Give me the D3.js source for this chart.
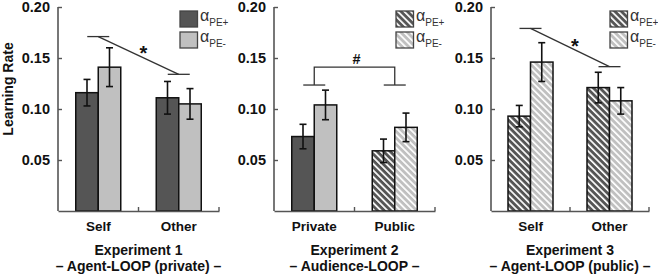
<html>
<script src="https://d3js.org/d3.v7.min.js"></script>
<style>
    body { margin: 0; background: #fff; }
    svg text { font-family: "Liberation Sans", Arial, sans-serif; }
</style>
<svg width=658 height=276></svg>
<script>

    // ---- data ----
    let categories1 = ['Self', 'Other'],
        pePlus1 = [0.116, 0.111],
        peMinus1 = [0.141, 0.105],
        errPlus1 = [0.013, 0.016],
        errMinus1 = [0.019, 0.015],
        hatch1 = [false, false];

    let categories2 = ['Private', 'Public'],
        pePlus2 = [0.073, 0.059],
        peMinus2 = [0.104, 0.082],
        errPlus2 = [0.012, 0.0115],
        errMinus2 = [0.0145, 0.014],
        hatch2 = [false, true];

    let categories3 = ['Self', 'Other'],
        pePlus3 = [0.093, 0.121],
        peMinus3 = [0.146, 0.108],
        errPlus3 = [0.0105, 0.015],
        errMinus3 = [0.019, 0.013],
        hatch3 = [true, true];

    let yTicks = [0.05, 0.10, 0.15, 0.20];
    let titles = ['Experiment 1', 'Experiment 2', 'Experiment 3'];
    let subtitles = ['\u2013 Agent-LOOP (private) \u2013', '\u2013 Audience-LOOP \u2013', '\u2013 Agent-LOOP (public) \u2013'];
    let seriesKeys = ['plus', 'minus'];
    let seriesLabels = ['PE+', 'PE-'];

    // significance marks: levels for the two groups, bracket top, symbol
    let sig1 = { type: 'diag', levels: [0.171, 0.134], mark: '*' };
    let sig2 = { type: 'bracket', levels: [0.1235, 0.1235], top: 0.141, mark: '#' };
    let sig3 = { type: 'diag', levels: [0.179, 0.1415], mark: '*' };

    let panels = [
        { cats: categories1, plus: pePlus1, minus: peMinus1, eplus: errPlus1, eminus: errMinus1, hatch: hatch1, sig: sig1, x0: 58, x1: 219, legendHatch: false },
        { cats: categories2, plus: pePlus2, minus: peMinus2, eplus: errPlus2, eminus: errMinus2, hatch: hatch2, sig: sig2, x0: 274, x1: 435, legendHatch: true },
        { cats: categories3, plus: pePlus3, minus: peMinus3, eplus: errPlus3, eminus: errMinus3, hatch: hatch3, sig: sig3, x0: 491, x1: 649, legendHatch: true }
    ];

    let svg = d3.select('svg');
    let colors = { plus: '#555555', minus: '#c0c0c0' };
    let axisColor = '#555';
    let textColor = '#111';

    // hatch patterns
    let defs = svg.append('defs');
    seriesKeys.forEach(k => {
        let p = defs.append('pattern')
            .attr('id', 'hatch-' + k)
            .attr('patternUnits', 'userSpaceOnUse')
            .attr('width', 4.6).attr('height', 4.6)
            .attr('patternTransform', 'rotate(-45)');
        p.append('rect').attr('width', 4.6).attr('height', 4.6).attr('fill', colors[k]);
        p.append('rect').attr('width', 1.7).attr('height', 4.6).attr('fill', '#fff');
    });

    let y = d3.scaleLinear().domain([0, 0.2]).range([211, 7]);

    // y label
    svg.append('text')
        .attr('transform', 'translate(12.5,89) rotate(-90)')
        .attr('text-anchor', 'middle')
        .style('font-size', '14px').style('font-weight', 'bold')
        .attr('fill', textColor)
        .text('Learning Rate');

    panels.forEach((pn, pi) => {
        let g = svg.append('g');

        let x = d3.scaleBand().domain(pn.cats).range([pn.x0, pn.x1]).padding(0);
        let barW = 22.5;
        let xs = d3.scaleBand().domain(seriesKeys).range([-barW, barW]).padding(0);
        let center = c => x(c) + x.bandwidth() / 2;

        // y axis
        let yAxis = d3.axisLeft(y).tickValues(yTicks).tickFormat(d3.format('.2f'))
            .tickSizeInner(-4).tickSizeOuter(0).tickPadding(8);
        let ya = g.append('g').attr('transform', 'translate(' + pn.x0 + ',0)').call(yAxis);
        ya.select('.domain').attr('stroke', axisColor).attr('stroke-width', 1.6)
            .attr('d', 'M0,' + y(0.2) + 'V' + y(0));
        ya.selectAll('.tick line').attr('stroke', axisColor).attr('stroke-width', 1.4);
        ya.selectAll('.tick text').style('font-size', '14.5px').style('font-weight', 'bold')
            .style('font-family', '"Liberation Sans", Arial, sans-serif').attr('fill', textColor);

        // bars
        let rows = [];
        pn.cats.forEach((c, i) => {
            seriesKeys.forEach(k => {
                rows.push({ cat: c, key: k, value: pn[k][i], err: pn['e' + k][i], hatch: pn.hatch[i] });
            });
        });

        g.selectAll('.bar')
            .data(rows)
          .enter()
            .append('rect')
            .attr('x', d => center(d.cat) + xs(d.key))
            .attr('width', xs.bandwidth())
            .attr('y', d => y(d.value))
            .attr('height', d => y(0) - y(d.value))
            .attr('fill', d => d.hatch ? 'url(#hatch-' + d.key + ')' : colors[d.key])
            .attr('stroke', '#111').attr('stroke-width', 1.5);

        // error bars
        let eb = g.selectAll('.err')
            .data(rows)
          .enter()
            .append('g')
            .attr('transform', d => 'translate(' + (center(d.cat) + xs(d.key) + xs.bandwidth() / 2) + ',0)');
        eb.append('line')
            .attr('y1', d => y(d.value + d.err)).attr('y2', d => y(d.value - d.err))
            .attr('stroke', '#111').attr('stroke-width', 1.6);
        eb.append('line').attr('x1', -3.5).attr('x2', 3.5)
            .attr('y1', d => y(d.value + d.err)).attr('y2', d => y(d.value + d.err))
            .attr('stroke', '#111').attr('stroke-width', 1.6);
        eb.append('line').attr('x1', -3.5).attr('x2', 3.5)
            .attr('y1', d => y(d.value - d.err)).attr('y2', d => y(d.value - d.err))
            .attr('stroke', '#111').attr('stroke-width', 1.6);

        // x axis
        let xAxis = d3.axisBottom(x).tickSize(0).tickPadding(10);
        let xa = g.append('g').attr('transform', 'translate(0,' + y(0) + ')').call(xAxis);
        xa.select('.domain').attr('stroke', axisColor).attr('stroke-width', 1.6);
        xa.selectAll('.tick text').style('font-size', '13.5px').style('font-weight', 'bold')
            .style('font-family', '"Liberation Sans", Arial, sans-serif').attr('fill', textColor);
        g.selectAll('.xtick')
            .data(pn.cats)
          .enter()
            .append('line')
            .attr('x1', d => x(d) + x.step()).attr('x2', d => x(d) + x.step())
            .attr('y1', y(0)).attr('y2', y(0) - 4)
            .attr('stroke', axisColor).attr('stroke-width', 1.4);

        // significance
        let s = pn.sig;
        let cA = center(pn.cats[0]), cB = center(pn.cats[1]);
        let sg = g.append('g').attr('stroke', '#333').attr('stroke-width', 1.3).attr('fill', 'none');
        [cA, cB].forEach((c, i) => {
            sg.append('line').attr('x1', c - 11).attr('x2', c + 11)
                .attr('y1', y(s.levels[i])).attr('y2', y(s.levels[i]));
        });
        if (s.type === 'diag') {
            sg.append('line').attr('x1', cA).attr('y1', y(s.levels[0]))
                .attr('x2', cB).attr('y2', y(s.levels[1]));
            let mx = (cA + cB) / 2 + 5;
            let my = (y(s.levels[0]) + y(s.levels[1])) / 2;
            g.append('text').attr('x', mx).attr('y', my + 5)
                .attr('text-anchor', 'middle')
                .style('font-size', '20px').style('font-weight', 'bold')
                .attr('fill', textColor).text(s.mark);
        } else {
            sg.append('path')
                .attr('d', 'M' + cA + ',' + y(s.levels[0]) + 'V' + y(s.top) + 'H' + cB + 'V' + y(s.levels[1]));
            g.append('text').attr('x', (cA + cB) / 2 + 2).attr('y', y(s.top) - 3)
                .attr('text-anchor', 'middle')
                .style('font-size', '14.5px').style('font-weight', 'bold')
                .attr('fill', textColor).text(s.mark);
        }

        // legend
        let lg = g.append('g').attr('transform', 'translate(' + (pn.x1 - 39) + ',11)');
        seriesKeys.forEach((k, i) => {
            let row = lg.append('g').attr('transform', 'translate(0,' + (i * 21) + ')');
            row.append('rect').attr('width', 17.5).attr('height', 16)
                .attr('fill', pn.legendHatch ? 'url(#hatch-' + k + ')' : colors[k])
                .attr('stroke', '#444').attr('stroke-width', 1.3);
            let t = row.append('text').attr('x', 20).attr('y', 10)
                .attr('fill', '#333').style('font-size', '16px');
            t.append('tspan').text('\u03b1');
            t.append('tspan').attr('dy', 5).style('font-size', '10px').text(seriesLabels[i]);
        });

        // titles
        let tc = (pn.x0 + pn.x1) / 2;
        g.append('text').attr('x', tc).attr('y', 255).attr('text-anchor', 'middle')
            .style('font-size', '14px').style('font-weight', 'bold').attr('fill', textColor)
            .text(titles[pi]);
        g.append('text').attr('x', tc).attr('y', 271).attr('text-anchor', 'middle')
            .style('font-size', '14px').style('font-weight', 'bold').attr('fill', textColor)
            .text(subtitles[pi]);
    });

</script>
</html>
